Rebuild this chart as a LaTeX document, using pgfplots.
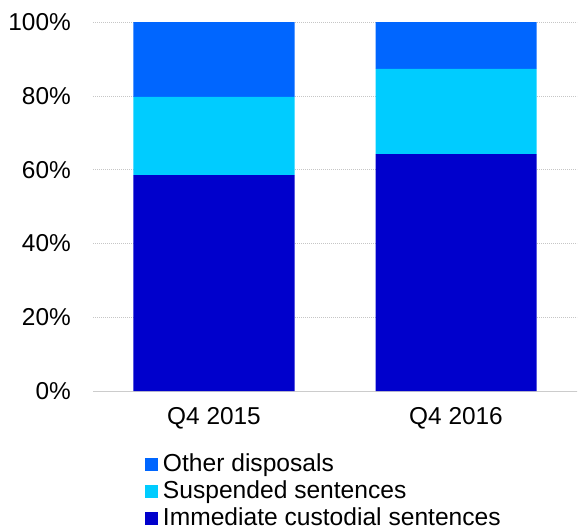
\documentclass[border=0pt]{standalone}
\usepackage{pgfplots}
\pgfplotsset{compat=1.18}
\usepackage{fontspec}
\setmainfont{Liberation Sans}
\definecolor{cOther}{HTML}{0066FF}
\definecolor{cSusp}{HTML}{00CCFF}
\definecolor{cCust}{HTML}{0000CC}
\begin{document}
\begin{tikzpicture}
\clip (0,0) rectangle (583bp,-529bp);
\begin{axis}[
  at={(93bp,-22bp)}, anchor=north west,
  scale only axis, width=484bp, height=369bp,
  ybar stacked, bar width=161bp,
  xmin=-0.5, xmax=1.5, ymin=0, ymax=100,
  xtick={0,1}, xticklabels={Q4 2015,Q4 2016},
  ytick={0,20,40,60,80,100},
  yticklabels={0\%,20\%,40\%,60\%,80\%,100\%},
  major tick length=0pt,
  axis x line=bottom, axis y line=left,
  x axis line style={draw=gray!40, -},
  y axis line style={draw=none},
  ymajorgrids, major grid style={draw=gray!45, dash pattern=on 1bp off 1bp},
  tick label style={font=\fontsize{24.4bp}{29bp}\selectfont, inner sep=0pt},
  yticklabel style={xshift=-22bp},
  xticklabel style={yshift=-16.5bp},
  clip=false,
  reverse legend,
  legend cell align=left,
  legend style={at={(0.107,-0.163)}, anchor=north west, draw=none, fill=none,
    inner sep=0pt, column sep=5bp,
    font=\fontsize{24.6bp}{29bp}\selectfont,
    nodes={inner sep=0pt, text height=17.5bp, text depth=5bp, inner ysep=2.25bp}},
  legend image code/.code={\fill[#1] (0bp,-6.5bp) rectangle (13bp,6.5bp);},
]
\addplot[fill=cCust, draw=none] coordinates {(0,58.5) (1,64.2)};
\addlegendentry{Immediate custodial sentences}
\addplot[fill=cSusp, draw=none] coordinates {(0,21.2) (1,23.1)};
\addlegendentry{Suspended sentences}
\addplot[fill=cOther, draw=none] coordinates {(0,20.3) (1,12.7)};
\addlegendentry{Other disposals}
\end{axis}
\end{tikzpicture}
\end{document}
